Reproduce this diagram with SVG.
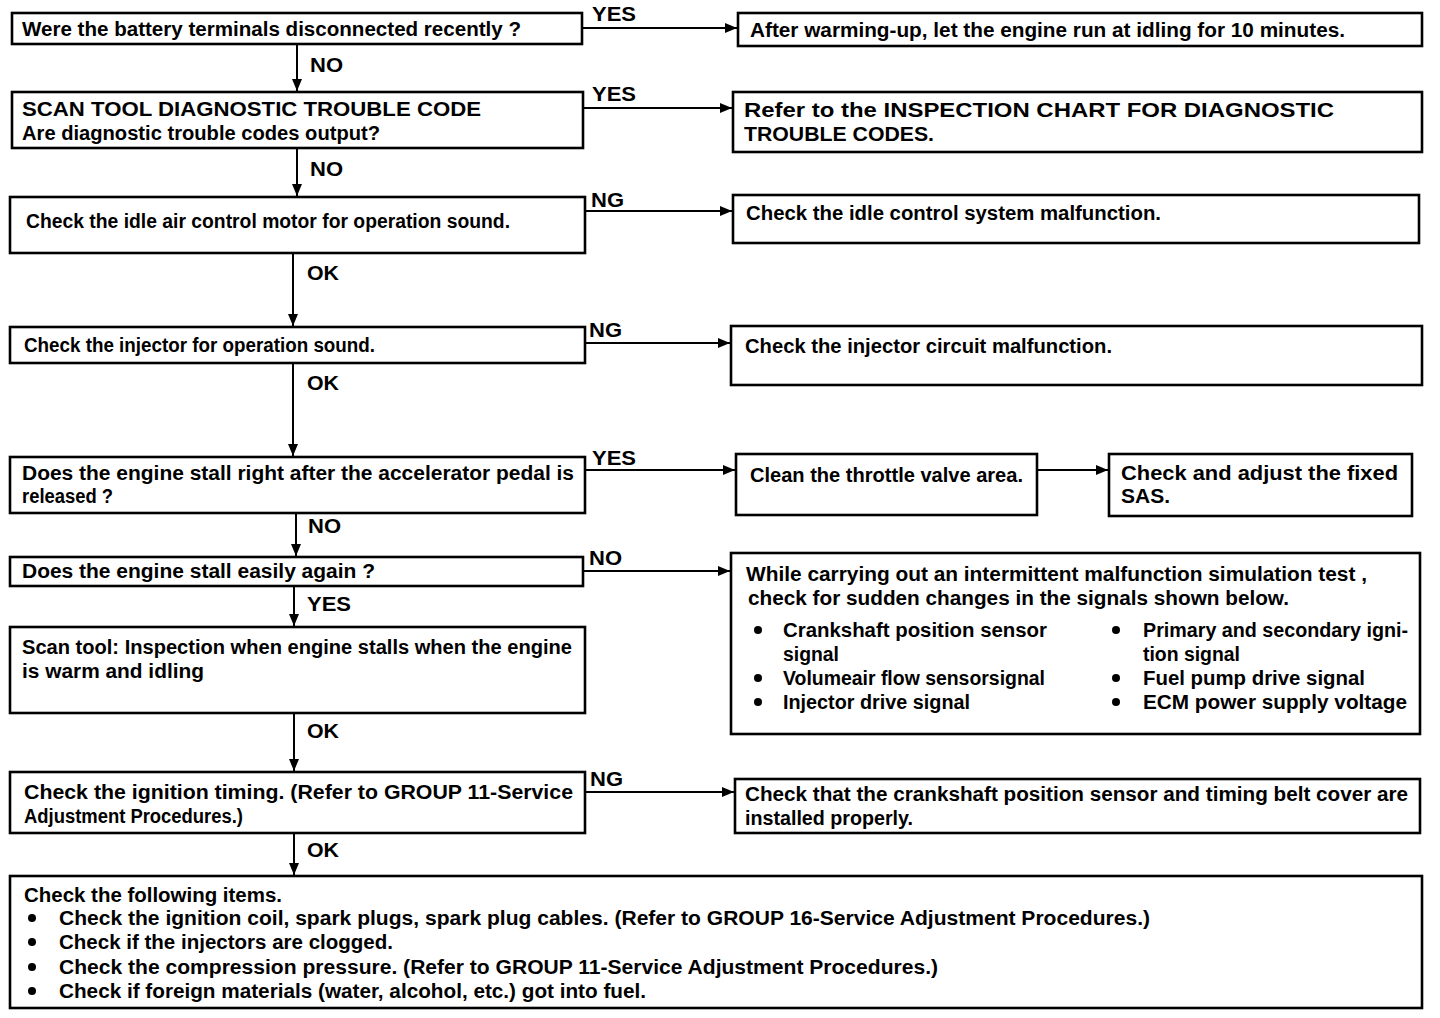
<svg xmlns="http://www.w3.org/2000/svg" width="1440" height="1018" viewBox="0 0 1440 1018">
<style>
.box{fill:#fff;stroke:#000;stroke-width:2.6}
.t{font-family:"Liberation Sans",Arial,sans-serif;font-weight:bold;font-size:20px;fill:#000}
.lb{font-family:"Liberation Sans",Arial,sans-serif;font-weight:bold;font-size:20px;fill:#000}
.c{fill:none;stroke:#000;stroke-width:2}
.b{fill:#000}
</style>
<defs>
<marker id="ah" markerUnits="userSpaceOnUse" markerWidth="13" markerHeight="10" refX="12" refY="5" orient="auto">
<path d="M0,0 L12,5 L0,10 z" fill="#000"/>
</marker>
</defs>
<rect width="1440" height="1018" fill="#fff"/>

<g id="connectors">
<line class="c" x1="297" y1="45" x2="297" y2="91" marker-end="url(#ah)"/>
<line class="c" x1="297" y1="149" x2="297" y2="196" marker-end="url(#ah)"/>
<line class="c" x1="293" y1="254" x2="293" y2="326" marker-end="url(#ah)"/>
<line class="c" x1="293" y1="364" x2="293" y2="456" marker-end="url(#ah)"/>
<line class="c" x1="296" y1="514" x2="296" y2="556" marker-end="url(#ah)"/>
<line class="c" x1="294" y1="587" x2="294" y2="626" marker-end="url(#ah)"/>
<line class="c" x1="294" y1="714" x2="294" y2="771" marker-end="url(#ah)"/>
<line class="c" x1="294" y1="834" x2="294" y2="875" marker-end="url(#ah)"/>

<line class="c" x1="583" y1="28" x2="737" y2="28" marker-end="url(#ah)"/>
<line class="c" x1="584" y1="108" x2="732" y2="108" marker-end="url(#ah)"/>
<line class="c" x1="586" y1="211" x2="732" y2="211" marker-end="url(#ah)"/>
<line class="c" x1="586" y1="343" x2="730" y2="343" marker-end="url(#ah)"/>
<line class="c" x1="586" y1="470" x2="735" y2="470" marker-end="url(#ah)"/>
<line class="c" x1="1038" y1="470" x2="1108" y2="470" marker-end="url(#ah)"/>
<line class="c" x1="584" y1="571" x2="730" y2="571" marker-end="url(#ah)"/>
<line class="c" x1="586" y1="792" x2="734" y2="792" marker-end="url(#ah)"/>

<text class="lb" x="592" y="21" textLength="44" lengthAdjust="spacingAndGlyphs">YES</text>
<text class="lb" x="592" y="101" textLength="44" lengthAdjust="spacingAndGlyphs">YES</text>
<text class="lb" x="591" y="207" textLength="33" lengthAdjust="spacingAndGlyphs">NG</text>
<text class="lb" x="589" y="337" textLength="33" lengthAdjust="spacingAndGlyphs">NG</text>
<text class="lb" x="592" y="465" textLength="44" lengthAdjust="spacingAndGlyphs">YES</text>
<text class="lb" x="589" y="565" textLength="33" lengthAdjust="spacingAndGlyphs">NO</text>
<text class="lb" x="590" y="786" textLength="33" lengthAdjust="spacingAndGlyphs">NG</text>

<text class="lb" x="310" y="72" textLength="33" lengthAdjust="spacingAndGlyphs">NO</text>
<text class="lb" x="310" y="176" textLength="33" lengthAdjust="spacingAndGlyphs">NO</text>
<text class="lb" x="307" y="280" textLength="32" lengthAdjust="spacingAndGlyphs">OK</text>
<text class="lb" x="307" y="390" textLength="32" lengthAdjust="spacingAndGlyphs">OK</text>
<text class="lb" x="308" y="533" textLength="33" lengthAdjust="spacingAndGlyphs">NO</text>
<text class="lb" x="307" y="611" textLength="44" lengthAdjust="spacingAndGlyphs">YES</text>
<text class="lb" x="307" y="738" textLength="32" lengthAdjust="spacingAndGlyphs">OK</text>
<text class="lb" x="307" y="857" textLength="32" lengthAdjust="spacingAndGlyphs">OK</text>
</g>

<g id="n1">
<rect class="box" x="12" y="13" width="570" height="31"/>
<text class="t" x="22" y="36" textLength="499" lengthAdjust="spacingAndGlyphs">Were the battery terminals disconnected recently ?</text>
</g>
<g id="r1">
<rect class="box" x="738" y="13" width="684" height="33"/>
<text class="t" x="750" y="37" textLength="595" lengthAdjust="spacingAndGlyphs">After warming-up, let the engine run at idling for 10 minutes.</text>
</g>

<g id="n2">
<rect class="box" x="12" y="92" width="571" height="56"/>
<text class="t" x="22" y="116" textLength="459" lengthAdjust="spacingAndGlyphs">SCAN TOOL DIAGNOSTIC TROUBLE CODE</text>
<text class="t" x="22" y="140" textLength="358" lengthAdjust="spacingAndGlyphs">Are diagnostic trouble codes output?</text>
</g>
<g id="r2">
<rect class="box" x="733" y="92" width="689" height="60"/>
<text class="t" x="744" y="117" textLength="590" lengthAdjust="spacingAndGlyphs">Refer  to  the INSPECTION  CHART  FOR   DIAGNOSTIC</text>
<text class="t" x="744" y="141" textLength="190" lengthAdjust="spacingAndGlyphs">TROUBLE CODES.</text>
</g>

<g id="n3">
<rect class="box" x="10" y="197" width="575" height="56"/>
<text class="t" x="26" y="228" textLength="484" lengthAdjust="spacingAndGlyphs">Check the idle air control motor for operation sound.</text>
</g>
<g id="r3">
<rect class="box" x="733" y="195" width="686" height="48"/>
<text class="t" x="746" y="220" textLength="415" lengthAdjust="spacingAndGlyphs">Check the idle control system malfunction.</text>
</g>

<g id="n4">
<rect class="box" x="10" y="327" width="575" height="36"/>
<text class="t" x="24" y="352" textLength="351" lengthAdjust="spacingAndGlyphs">Check the injector for operation sound.</text>
</g>
<g id="r4">
<rect class="box" x="731" y="326" width="691" height="59"/>
<text class="t" x="745" y="353" textLength="367" lengthAdjust="spacingAndGlyphs">Check the injector circuit malfunction.</text>
</g>

<g id="n5">
<rect class="box" x="10" y="457" width="575" height="56"/>
<text class="t" x="22" y="480" textLength="552" lengthAdjust="spacingAndGlyphs">Does the engine stall right after the accelerator pedal is</text>
<text class="t" x="22" y="503" textLength="91" lengthAdjust="spacingAndGlyphs">released ?</text>
</g>
<g id="r5a">
<rect class="box" x="736" y="454" width="301" height="61"/>
<text class="t" x="750" y="482" textLength="273" lengthAdjust="spacingAndGlyphs">Clean the throttle valve area.</text>
</g>
<g id="r5b">
<rect class="box" x="1109" y="454" width="303" height="62"/>
<text class="t" x="1121" y="480" textLength="277" lengthAdjust="spacingAndGlyphs">Check  and  adjust  the  fixed</text>
<text class="t" x="1121" y="503" textLength="49" lengthAdjust="spacingAndGlyphs">SAS.</text>
</g>

<g id="n6">
<rect class="box" x="10" y="557" width="573" height="29"/>
<text class="t" x="22" y="578" textLength="353" lengthAdjust="spacingAndGlyphs">Does the engine stall easily again ?</text>
</g>
<g id="r6">
<rect class="box" x="731" y="553" width="689" height="181"/>
<text class="t" x="746" y="581" textLength="621" lengthAdjust="spacingAndGlyphs">While carrying out an intermittent malfunction simulation test ,</text>
<text class="t" x="748" y="605" textLength="541" lengthAdjust="spacingAndGlyphs">check for sudden changes in the signals shown below.</text>
<circle class="b" cx="758" cy="630" r="4"/>
<text class="t" x="783" y="637" textLength="264" lengthAdjust="spacingAndGlyphs">Crankshaft  position  sensor</text>
<text class="t" x="783" y="661" textLength="56" lengthAdjust="spacingAndGlyphs">signal</text>
<circle class="b" cx="758" cy="678" r="4"/>
<text class="t" x="783" y="685" textLength="262" lengthAdjust="spacingAndGlyphs">Volumeair flow sensorsignal</text>
<circle class="b" cx="758" cy="702" r="4"/>
<text class="t" x="783" y="709" textLength="187" lengthAdjust="spacingAndGlyphs">Injector drive signal</text>
<circle class="b" cx="1116" cy="630" r="4"/>
<text class="t" x="1143" y="637" textLength="265" lengthAdjust="spacingAndGlyphs">Primary and secondary igni-</text>
<text class="t" x="1143" y="661" textLength="97" lengthAdjust="spacingAndGlyphs">tion signal</text>
<circle class="b" cx="1116" cy="678" r="4"/>
<text class="t" x="1143" y="685" textLength="222" lengthAdjust="spacingAndGlyphs">Fuel pump drive signal</text>
<circle class="b" cx="1116" cy="702" r="4"/>
<text class="t" x="1143" y="709" textLength="264" lengthAdjust="spacingAndGlyphs">ECM power supply voltage</text>
</g>

<g id="n7">
<rect class="box" x="10" y="627" width="575" height="86"/>
<text class="t" x="22" y="654" textLength="550" lengthAdjust="spacingAndGlyphs">Scan tool: Inspection when engine stalls when the engine</text>
<text class="t" x="22" y="678" textLength="182" lengthAdjust="spacingAndGlyphs">is warm and idling</text>
</g>

<g id="n8">
<rect class="box" x="10" y="772" width="575" height="61"/>
<text class="t" x="24" y="799" textLength="549" lengthAdjust="spacingAndGlyphs">Check the ignition timing. (Refer to GROUP 11-Service</text>
<text class="t" x="24" y="823" textLength="219" lengthAdjust="spacingAndGlyphs">Adjustment Procedures.)</text>
</g>
<g id="r8">
<rect class="box" x="735" y="779" width="685" height="54"/>
<text class="t" x="745" y="801" textLength="663" lengthAdjust="spacingAndGlyphs">Check that the crankshaft position sensor and timing belt cover are</text>
<text class="t" x="745" y="825" textLength="168" lengthAdjust="spacingAndGlyphs">installed properly.</text>
</g>

<g id="n9">
<rect class="box" x="10" y="876" width="1412" height="132"/>
<text class="t" x="24" y="902" textLength="258" lengthAdjust="spacingAndGlyphs">Check the following items.</text>
<circle class="b" cx="32" cy="918" r="4"/>
<text class="t" x="59" y="925" textLength="1091" lengthAdjust="spacingAndGlyphs">Check the ignition coil, spark plugs, spark plug cables. (Refer to GROUP 16-Service Adjustment Procedures.)</text>
<circle class="b" cx="32" cy="942" r="4"/>
<text class="t" x="59" y="949" textLength="334" lengthAdjust="spacingAndGlyphs">Check if the injectors are clogged.</text>
<circle class="b" cx="32" cy="967" r="4"/>
<text class="t" x="59" y="974" textLength="879" lengthAdjust="spacingAndGlyphs">Check the compression pressure. (Refer to GROUP 11-Service Adjustment Procedures.)</text>
<circle class="b" cx="32" cy="991" r="4"/>
<text class="t" x="59" y="998" textLength="587" lengthAdjust="spacingAndGlyphs">Check if foreign materials (water, alcohol, etc.) got into fuel.</text>
</g>
</svg>
